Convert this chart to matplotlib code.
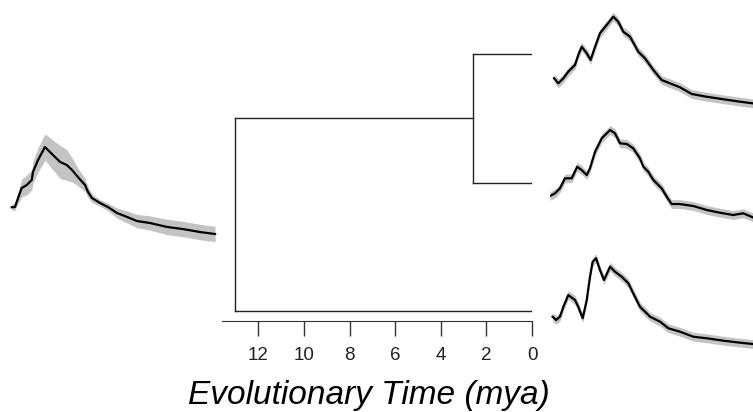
import matplotlib
matplotlib.use("Agg")
import matplotlib.pyplot as plt
import numpy as np

plt.rcParams['font.family'] = ['Liberation Sans', 'DejaVu Sans']

W, H = 753, 412

# ancestral curve (left)
anc_x = [0.18, 0.33, 0.48, 0.65, 0.89, 1.13, 1.19, 1.43, 1.76, 2.0, 2.24, 2.48, 2.8, 3.05,
         3.33, 3.67, 3.81, 4.0, 4.38, 4.76, 5.19, 5.67, 6.14, 6.76, 7.57, 8.33, 9.14, 9.86]
anc_y = [3.43, 3.45, 4.27, 5.18, 5.45, 5.91, 6.64, 7.73, 8.91, 8.45, 8.0, 7.55, 7.27, 6.82,
         6.18, 5.45, 4.82, 4.27, 3.82, 3.45, 2.91, 2.55, 2.18, 2.0, 1.64, 1.45, 1.18, 1.0]
anc_ci = [0.3, 0.3, 0.5, 0.8, 0.9, 0.9, 1.0, 1.1, 1.2, 1.3, 1.4, 1.5, 1.4, 1.1,
          0.8, 0.6, 0.5, 0.4, 0.3, 0.35, 0.45, 0.55, 0.6, 0.65, 0.7, 0.7, 0.7, 0.7]

# tip curves (right), top to bottom
tip1_x = [0.20, 0.41, 0.66, 0.90, 1.23, 1.39, 1.56, 1.81, 2.00, 2.22, 2.46, 2.79, 3.12, 3.36,
          3.61, 3.94, 4.35, 4.68, 5.09, 5.50, 5.91, 6.40, 6.98, 7.72, 8.54, 9.36, 9.99]
tip1_y = [3.34, 2.88, 3.34, 3.94, 4.55, 5.45, 6.21, 5.61, 5.0, 6.21, 7.43, 8.18, 8.94, 8.48,
          7.57, 7.12, 5.75, 5.15, 4.09, 3.18, 2.88, 2.52, 1.91, 1.66, 1.43, 1.21, 1.06]

tip2_x = [0.0, 0.25, 0.49, 0.74, 1.07, 1.34, 1.56, 1.81, 1.97, 2.22, 2.55, 2.96, 3.20, 3.45, 3.78,
          4.10, 4.43, 4.60, 4.84, 5.09, 5.50, 5.75, 5.99, 6.40, 7.06, 7.72, 8.37, 9.03, 9.52, 9.99]
tip2_y = [3.09, 3.34, 3.79, 4.70, 4.70, 5.75, 5.45, 5.0, 5.61, 7.12, 8.34, 9.09, 8.79, 7.88, 7.82,
          7.43, 6.52, 5.75, 5.30, 4.55, 3.79, 3.03, 2.36, 2.36, 2.18, 1.82, 1.57, 1.36, 1.52, 1.15]

tip3_x = [0.13, 0.30, 0.49, 0.66, 0.90, 1.23, 1.39, 1.61, 1.81, 1.97, 2.10, 2.27, 2.46, 2.66, 2.96,
          3.20, 3.53, 3.86, 4.10, 4.43, 4.93, 5.42, 5.83, 6.40, 7.06, 7.72, 8.54, 9.36, 9.99]
tip3_y = [3.48, 3.18, 3.48, 4.39, 5.45, 5.0, 4.39, 3.34, 5.0, 7.12, 8.48, 8.79, 7.73, 6.82, 8.03,
          7.57, 7.12, 6.52, 5.61, 4.39, 3.48, 3.03, 2.43, 2.12, 1.66, 1.52, 1.30, 1.12, 1.0]
tip_ci = 0.4

# tree (ages in mya)
root_age = 13.05
node_age = 2.58
tip_pos = [3, 2, 1]
ticks = [12, 10, 8, 6, 4, 2, 0]

fig = plt.figure(figsize=(W / 100, H / 100), dpi=100)


def px_axes(x0, y0, x1, y1):
    return fig.add_axes([x0 / W, 1 - y1 / H, (x1 - x0) / W, (y1 - y0) / H])


def draw_curve(ax, x, y, ci):
    x = np.array(x)
    y = np.array(y)
    ci = np.broadcast_to(np.array(ci, dtype=float), y.shape)
    ax.fill_between(x, y - ci, y + ci, color='#c3c3c3', lw=0)
    ax.plot(x, y, color='black', lw=1.6)
    ax.set_xlim(0, 10)
    ax.set_ylim(0, 10)
    ax.axis('off')


draw_curve(px_axes(8, 135, 218, 245), anc_x, anc_y, anc_ci)
draw_curve(px_axes(550, 5, 753, 115), tip1_x, tip1_y, tip_ci)
draw_curve(px_axes(550, 120, 753, 230), tip2_x, tip2_y, tip_ci)
draw_curve(px_axes(550, 245, 753, 355), tip3_x, tip3_y, tip_ci)

# dendrogram
ax = px_axes(222, 45, 532, 321)
lc = '#222222'
mid = (tip_pos[0] + tip_pos[1]) / 2
ax.plot([root_age, root_age], [tip_pos[2], mid], color=lc, lw=1)
ax.plot([root_age, node_age], [mid, mid], color=lc, lw=1)
ax.plot([root_age, 0], [tip_pos[2], tip_pos[2]], color=lc, lw=1)
ax.plot([node_age, node_age], [tip_pos[1], tip_pos[0]], color=lc, lw=1)
ax.plot([node_age, 0], [tip_pos[0], tip_pos[0]], color=lc, lw=1)
ax.plot([node_age, 0], [tip_pos[1], tip_pos[1]], color=lc, lw=1)
ax.set_xlim(13.6, 0)
ax.set_ylim(0.925, 3.07)
for s in ['top', 'left', 'right']:
    ax.spines[s].set_visible(False)
ax.spines['bottom'].set_color('#333333')
ax.set_yticks([])
ax.set_xticks(ticks)
ax.set_xticklabels([str(t) for t in ticks])
ax.tick_params(axis='x', length=11, width=1, color='#333333', pad=8,
               labelsize=13.5, labelcolor='#222222')
ax.patch.set_visible(False)

fig.text(369 / W, 1 - 404 / H, 'Evolutionary Time (mya)', ha='center', va='baseline',
         fontsize=24, style='italic', color='black')

fig.savefig('out.png', dpi=100)
